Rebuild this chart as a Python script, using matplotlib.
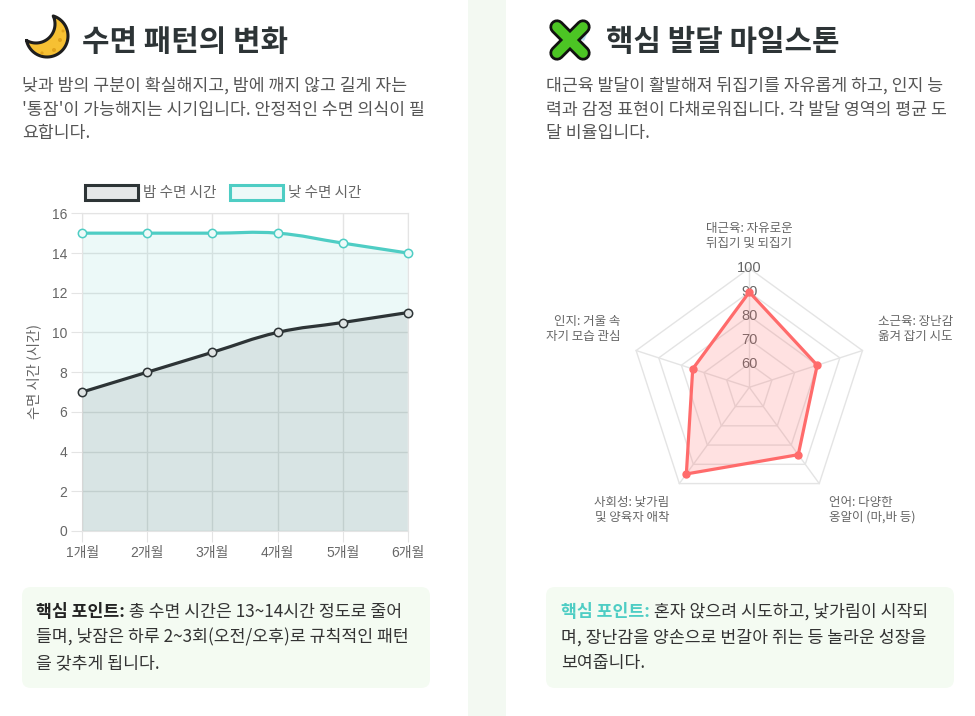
import matplotlib
matplotlib.use('Agg')
import matplotlib.pyplot as plt
import numpy as np
from matplotlib.path import Path
from matplotlib.patches import PathPatch, FancyBboxPatch, Rectangle, Polygon, Circle

plt.rcParams['font.family'] = ['Noto Sans CJK KR', 'DejaVu Sans']

# ---------------- data ----------------
months = ['1개월', '2개월', '3개월', '4개월', '5개월', '6개월']
night_sleep = [7, 8, 9, 10, 10.5, 11]
day_sleep = [15, 15, 15, 15, 14.5, 14]
sleep_yticks = [0, 2, 4, 6, 8, 10, 12, 14, 16]
series_names = ['밤 수면 시간', '낮 수면 시간']

domains = ['대근육: 자유로운\n뒤집기 및 되집기',
           '소근육: 장난감\n옮겨 잡기 시도',
           '언어: 다양한\n옹알이 (마,바 등)',
           '사회성: 낯가림\n및 양육자 애착',
           '인지: 거울 속\n자기 모습 관심']
scores = [90, 80, 85, 95, 75]
radar_ticks = [60, 70, 80, 90, 100]

left_title = '수면 패턴의 변화'
left_desc = ['낮과 밤의 구분이 확실해지고, 밤에 깨지 않고 길게 자는',
             "'통잠'이 가능해지는 시기입니다. 안정적인 수면 의식이 필",
             '요합니다.']
right_title = '핵심 발달 마일스톤'
right_desc = ['대근육 발달이 활발해져 뒤집기를 자유롭게 하고, 인지 능',
              '력과 감정 표현이 다채로워집니다. 각 발달 영역의 평균 도',
              '달 비율입니다.']
point_head = '핵심 포인트:'
left_note = [' 총 수면 시간은 13~14시간 정도로 줄어',
             '들며, 낮잠은 하루 2~3회(오전/오후)로 규칙적인 패턴',
             '을 갖추게 됩니다.']
right_note = [' 혼자 앉으려 시도하고, 낯가림이 시작되',
              '며, 장난감을 양손으로 번갈아 쥐는 등 놀라운 성장을',
              '보여줍니다.']

# ---------------- styles ----------------
W, H = 975, 716
DARK = '#2d3436'
TEAL = '#4ecdc4'
RED = '#ff6b6b'
GRID = '#e4e4e4'
TXT = '#666666'
DESC = '#555555'
BODY = 12.4

fig = plt.figure(figsize=(W / 100, H / 100), dpi=100)
fig.patch.set_facecolor('white')

def fx(px):
    return px / W

def fy(py):
    return 1 - py / H

# decoration axes in pixel coordinates
deco = fig.add_axes([0, 0, 1, 1], zorder=-1)
deco.set_xlim(0, W)
deco.set_ylim(H, 0)
deco.axis('off')

# divider stripe
deco.add_patch(Rectangle((468, 0), 38, H, facecolor='#f3f9f2', edgecolor='none'))

# note boxes
for x0 in (22, 546):
    deco.add_patch(FancyBboxPatch((x0, 587), 408, 101,
                                  boxstyle='round,pad=0,rounding_size=9',
                                  facecolor='#f4fbf2', edgecolor='none'))

# moon icon (crescent)
C1 = np.array([47.0, 36.0]); R1 = 21.0
C2 = np.array([36.0, 24.0]); R2 = 19.0
d = np.hypot(*(C2 - C1))
a = (R1 ** 2 - R2 ** 2 + d ** 2) / (2 * d)
hh = np.sqrt(max(R1 ** 2 - a ** 2, 0))
u = (C2 - C1) / d
perp = np.array([-u[1], u[0]])
P0 = C1 + a * u
Pa, Pb = P0 + hh * perp, P0 - hh * perp

def ang(p, c):
    return np.arctan2(p[1] - c[1], p[0] - c[0])

def arc_pts(c, r, a0, a1, thr, n=50):
    dd = (a1 - a0) % (2 * np.pi)
    if ((thr - a0) % (2 * np.pi)) <= dd:
        ts = a0 + np.linspace(0, dd, n)
    else:
        ts = a0 - np.linspace(0, 2 * np.pi - dd, n)
    return np.c_[c[0] + r * np.cos(ts), c[1] + r * np.sin(ts)]

thr = np.arctan2(*(C1 - C2)[::-1])
outer = arc_pts(C1, R1, ang(Pa, C1), ang(Pb, C1), thr)
inner = arc_pts(C2, R2, ang(Pb, C2), ang(Pa, C2), thr)
deco.add_patch(Polygon(np.vstack([outer, inner]), closed=True,
                       facecolor='#f6c033', edgecolor='#1e1e1e', lw=2.2, joinstyle='round'))
for (cx_, cy_, rr) in [(60, 40, 2.0), (54, 50, 2.0), (63, 31, 1.5), (42, 53, 1.6)]:
    deco.add_patch(Circle((cx_, cy_), rr, facecolor='#e0a21c', edgecolor='none'))

# puzzle icon
deco.plot([557, 583], [27, 53], color='#111111', lw=11, solid_capstyle='round')
deco.plot([557, 583], [53, 27], color='#111111', lw=11, solid_capstyle='round')
deco.plot([557, 583], [27, 53], color='#4cc524', lw=7, solid_capstyle='round')
deco.plot([557, 583], [53, 27], color='#4cc524', lw=7, solid_capstyle='round')
deco.add_patch(Polygon([[573, 31], [582, 25], [588, 32], [584, 41], [576, 38]], closed=True,
                       facecolor='#b9dcf0', edgecolor='none'))
deco.add_patch(Circle((566, 45), 2.5, facecolor='#d9825b', edgecolor='none'))

# legend boxes
deco.add_patch(Rectangle((85, 185), 53, 15, facecolor='#e5e7e8', edgecolor=DARK, lw=2.2))
deco.add_patch(Rectangle((230, 185), 53, 15, facecolor='#edf9f8', edgecolor=TEAL, lw=2.2))
fig.text(fx(143), fy(192.5), series_names[0], fontsize=10.5, color=TXT, va='center')
fig.text(fx(288), fy(192.5), series_names[1], fontsize=10.5, color=TXT, va='center')

# ---------------- titles and descriptions ----------------
fig.text(fx(82), fy(42), left_title, fontsize=21.5, fontweight='bold', color=DARK, va='center')
fig.text(fx(606), fy(42), right_title, fontsize=21.5, fontweight='bold', color=DARK, va='center')
for i, ln in enumerate(left_desc):
    fig.text(fx(22), fy(86 + i * 23.5), ln, fontsize=BODY, color=DESC, va='center')
for i, ln in enumerate(right_desc):
    fig.text(fx(546), fy(86 + i * 23.5), ln, fontsize=BODY, color=DESC, va='center')

# note texts
renderer = fig.canvas.get_renderer()
def note(x0, lines, head_color):
    for i, ln in enumerate(lines):
        y = fy(612 + i * 25.5)
        if i == 0:
            t = fig.text(fx(x0), y, point_head, fontsize=BODY, fontweight='bold',
                         color=head_color, va='center')
            bb = t.get_window_extent(renderer=renderer)
            fig.text(bb.x1 / W, y, ln, fontsize=BODY, color='#333333', va='center')
        else:
            fig.text(fx(x0), y, ln, fontsize=BODY, color='#333333', va='center')

note(36, left_note, '#222222')
note(561, right_note, TEAL)

# ---------------- line chart ----------------
ax = fig.add_axes([fx(82.3), fy(531), 325.4 / W, 317.7 / H])
x = np.arange(len(months))
ax.set_xlim(0, len(months) - 1)
ax.set_ylim(0, 16)

def smooth(ax, xs, ys, tension=0.4):
    pts = ax.transData.transform(np.c_[xs, ys])
    n = len(pts)
    cprev, cnext = [None] * n, [None] * n
    for i in range(n):
        p0 = pts[max(i - 1, 0)]; p1 = pts[i]; p2 = pts[min(i + 1, n - 1)]
        d01 = np.hypot(*(p1 - p0)); d12 = np.hypot(*(p2 - p1))
        tot = d01 + d12
        s01 = d01 / tot if tot else 0
        s12 = d12 / tot if tot else 0
        cprev[i] = p1 - tension * s01 * (p2 - p0)
        cnext[i] = p1 + tension * s12 * (p2 - p0)
    verts = [pts[0]]
    codes = [Path.MOVETO]
    for i in range(n - 1):
        verts += [cnext[i], cprev[i + 1], pts[i + 1]]
        codes += [Path.CURVE4] * 3
    verts = ax.transData.inverted().transform(np.array(verts))
    return verts, codes

for ys, col, fillc, z in [(day_sleep, TEAL, (78/255, 205/255, 196/255, 0.1), 2),
                          (night_sleep, DARK, (45/255, 52/255, 54/255, 0.1), 3)]:
    verts, codes = smooth(ax, x, ys)
    fill_v = np.vstack([verts, [[x[-1], 0], [x[0], 0], [x[0], 0]]])
    fill_c = codes + [Path.LINETO, Path.LINETO, Path.CLOSEPOLY]
    ax.add_patch(PathPatch(Path(fill_v, fill_c), facecolor=fillc, edgecolor='none', zorder=z))

for ys, col, mfc, z in [(day_sleep, TEAL, '#eefaf9', 4), (night_sleep, DARK, '#dfe4e4', 5)]:
    verts, codes = smooth(ax, x, ys)
    ax.add_patch(PathPatch(Path(verts, codes), facecolor='none', edgecolor=col,
                           lw=2.3, zorder=z, capstyle='round', clip_on=False))
    ax.plot(x, ys, 'o', ms=6, mfc=mfc, mec=col, mew=1.1, zorder=z + 0.5, clip_on=False)

ax.set_xticks(x)
ax.set_xticklabels(months)
ax.set_yticks(sleep_yticks)
ax.grid(True, color=GRID, lw=1)
ax.set_axisbelow(True)
for s in ax.spines.values():
    s.set_color(GRID)
ax.tick_params(length=8, color=GRID, pad=3, labelcolor=TXT, labelsize=10)
for lab in ax.get_xticklabels() + ax.get_yticklabels():
    lab.set_family(['Liberation Sans', 'Noto Sans CJK KR'])
fig.text(fx(34), fy(371), '수면 시간 (시간)', rotation=90, fontsize=10.3, color=TXT,
         ha='center', va='center')

# ---------------- radar chart ----------------
cx, cy, R = 749.3, 387.3, 119.0
rax = fig.add_axes([fx(cx - R), fy(cy + R), 2 * R / W, 2 * R / H], projection='polar')
rax.set_theta_zero_location('N')
rax.set_theta_direction(-1)
rax.set_ylim(50, 100)
rax.grid(False)
rax.set_xticks([])
rax.set_yticks([])
rax.spines['polar'].set_visible(False)
rax.patch.set_alpha(0)

angles = np.arange(len(domains)) * 2 * np.pi / len(domains)
closed = np.append(angles, angles[0])
for r in radar_ticks:
    rax.plot(closed, [r] * len(closed), color=GRID, lw=1, zorder=1, clip_on=False)
for a_ in angles:
    rax.plot([a_, a_], [50, 100], color=GRID, lw=1, zorder=1, clip_on=False)
for r in radar_ticks:
    rax.text(0, r, str(r), ha='center', va='center', fontsize=10.5, color=TXT,
             family=['Liberation Sans'], zorder=1.5)

vals = np.append(scores, scores[0])
rax.fill(closed, vals, color=RED, alpha=0.2, zorder=2, lw=0)
rax.plot(closed, vals, color=RED, lw=2.3, zorder=3, clip_on=False)
rax.plot(angles, scores, 'o', ms=5, color=RED, zorder=4, clip_on=False)

offsets = [(0, 32, 'center'), (15.5, 21.5, 'left'), (10, -26, 'left'),
           (-10, -26, 'right'), (-16, 21.5, 'right')]
for a_, lab, (ox, oy, ha) in zip(angles, domains, offsets):
    rax.annotate(lab, xy=(a_, 100), xytext=(ox, oy), textcoords='offset pixels',
                 ha=ha, va='center', fontsize=9, color=TXT, linespacing=1.2,
                 annotation_clip=False)

fig.savefig('out.png', dpi=100, facecolor='white')
